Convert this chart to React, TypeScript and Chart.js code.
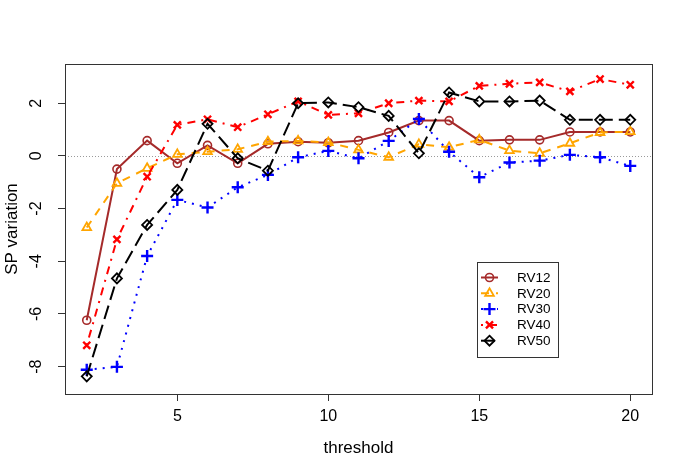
import React, { useEffect, useRef } from "react";
import { Chart, registerables } from "chart.js";

Chart.register(...registerables);

const thresholds = [2, 3, 4, 5, 6, 7, 8, 9, 10, 11, 12, 13, 14, 15, 16, 17, 18, 19, 20];
const rv12 = [-6.24, -0.5, 0.58, -0.28, 0.4, -0.28, 0.46, 0.54, 0.5, 0.58, 0.89, 1.34, 1.34, 0.58, 0.61, 0.61, 0.91, 0.91, 0.91];
const rv20 = [-2.72, -1.04, -0.47, 0.06, 0.16, 0.25, 0.54, 0.57, 0.51, 0.23, -0.05, 0.44, 0.33, 0.61, 0.2, 0.1, 0.48, 0.89, 0.92];
const rv30 = [-8.12, -8.01, -3.8, -1.67, -1.96, -1.19, -0.72, -0.05, 0.19, -0.09, 0.57, 1.4, 0.16, -0.81, -0.25, -0.18, 0.04, -0.05, -0.38];
const rv40 = [-7.19, -3.17, -0.79, 1.18, 1.39, 1.09, 1.58, 2.07, 1.56, 1.62, 2.0, 2.1, 2.07, 2.66, 2.74, 2.79, 2.45, 2.92, 2.7];
const rv50 = [-8.37, -4.65, -2.62, -1.29, 1.22, -0.09, -0.56, 2.0, 2.03, 1.85, 1.52, 0.1, 2.41, 2.07, 2.07, 2.1, 1.37, 1.37, 1.37];

const seriesNames = ["RV12", "RV20", "RV30", "RV40", "RV50"];
const xTicks = [5, 10, 15, 20];
const yTicks = [-8, -6, -4, -2, 0, 2];

const FONT = '"Liberation Sans", Arial, Helvetica, sans-serif';

type Style = { color: string; dash: number[]; point: string; radius: number; pw: number; fill: string };
const styles: Style[] = [
  { color: "#A52A2A", dash: [], point: "circle", radius: 4, pw: 1.6, fill: "rgba(255,255,255,0)" },
  { color: "#FFA500", dash: [8, 7], point: "triangle", radius: 5, pw: 1.8, fill: "rgba(255,255,255,0)" },
  { color: "#0000FF", dash: [2, 6], point: "cross", radius: 6, pw: 2.4, fill: "rgba(255,255,255,0)" },
  { color: "#FF0000", dash: [2, 6, 8, 6], point: "crossRot", radius: 5, pw: 2.4, fill: "rgba(255,255,255,0)" },
  { color: "#000000", dash: [14, 6], point: "rectRot", radius: 5, pw: 1.8, fill: "rgba(255,255,255,0)" },
];

function drawMarker(ctx: CanvasRenderingContext2D, s: Style, x: number, y: number) {
  ctx.save();
  ctx.setLineDash([]);
  ctx.strokeStyle = s.color;
  ctx.lineWidth = s.pw;
  ctx.beginPath();
  const r = s.radius;
  if (s.point === "circle") {
    ctx.arc(x, y, r, 0, Math.PI * 2);
  } else if (s.point === "triangle") {
    ctx.moveTo(x, y - r);
    ctx.lineTo(x + r * 0.866, y + r * 0.5);
    ctx.lineTo(x - r * 0.866, y + r * 0.5);
    ctx.closePath();
  } else if (s.point === "cross") {
    ctx.moveTo(x - r, y);
    ctx.lineTo(x + r, y);
    ctx.moveTo(x, y - r);
    ctx.lineTo(x, y + r);
  } else if (s.point === "crossRot") {
    const d = r * 0.707;
    ctx.moveTo(x - d, y - d);
    ctx.lineTo(x + d, y + d);
    ctx.moveTo(x + d, y - d);
    ctx.lineTo(x - d, y + d);
  } else {
    ctx.moveTo(x, y - r);
    ctx.lineTo(x + r, y);
    ctx.lineTo(x, y + r);
    ctx.lineTo(x - r, y);
    ctx.closePath();
  }
  ctx.stroke();
  ctx.restore();
}

const zeroLinePlugin = {
  id: "zeroLine",
  beforeDatasetsDraw(chart: any) {
    const { ctx, chartArea, scales } = chart;
    const y = Math.round(scales.y.getPixelForValue(0)) + 0.5;
    ctx.save();
    ctx.strokeStyle = "#9a9a9a";
    ctx.lineWidth = 1;
    ctx.setLineDash([1, 2]);
    ctx.beginPath();
    ctx.moveTo(chartArea.left, y);
    ctx.lineTo(chartArea.right, y);
    ctx.stroke();
    ctx.restore();
  },
};

const boxPlugin = {
  id: "box",
  afterDatasetsDraw(chart: any) {
    const { ctx, chartArea } = chart;
    ctx.save();
    ctx.strokeStyle = "#333";
    ctx.lineWidth = 1;
    ctx.setLineDash([]);
    ctx.strokeRect(chartArea.left + 0.5, chartArea.top + 0.5, chartArea.right - chartArea.left, chartArea.bottom - chartArea.top);
    ctx.restore();
  },
};

const legendPlugin = {
  id: "rLegend",
  afterDraw(chart: any) {
    const { ctx } = chart;
    const bx = 477.5, by = 262.5, bw = 81, bh = 95;
    ctx.save();
    ctx.fillStyle = "#fff";
    ctx.fillRect(bx, by, bw, bh);
    ctx.strokeStyle = "#333";
    ctx.lineWidth = 1;
    ctx.strokeRect(bx, by, bw, bh);
    chart.data.datasets.forEach((ds: any, i: number) => {
      const s = styles[i];
      const y = 277.5 + i * 15.8;
      ctx.save();
      ctx.strokeStyle = s.color;
      ctx.lineWidth = 2;
      ctx.setLineDash(s.dash);
      ctx.beginPath();
      ctx.moveTo(481, y);
      ctx.lineTo(498, y);
      ctx.stroke();
      ctx.restore();
      drawMarker(ctx, s, 489.5, y);
      ctx.fillStyle = "#000";
      ctx.font = `13.5px ${FONT}`;
      ctx.textBaseline = "middle";
      ctx.textAlign = "left";
      ctx.fillText(ds.label, 517, y + 0.5);
    });
    ctx.restore();
  },
};

export default function App() {
  const ref = useRef<HTMLCanvasElement | null>(null);

  useEffect(() => {
    if (!ref.current) return;
    const all = [rv12, rv20, rv30, rv40, rv50];
    const chart = new Chart(ref.current, {
      type: "line",
      data: {
        datasets: all.map((vals, i) => ({
          label: seriesNames[i],
          data: thresholds.map((t, j) => ({ x: t, y: vals[j] })),
          borderColor: styles[i].color,
          backgroundColor: styles[i].color,
          borderWidth: 2,
          borderDash: styles[i].dash,
          borderCapStyle: "butt" as const,
          tension: 0,
          fill: false,
          pointStyle: styles[i].point as any,
          pointRadius: styles[i].radius,
          pointBorderWidth: styles[i].pw,
          pointBorderColor: styles[i].color,
          pointBackgroundColor: styles[i].fill,
          order: 5 - i,
        })),
      },
      options: {
        animation: false,
        responsive: false,
        devicePixelRatio: 1,
        layout: { padding: { top: 64, right: 33, left: 0, bottom: 0 } },
        plugins: { legend: { display: false }, tooltip: { enabled: false } },
        scales: {
          x: {
            type: "linear",
            min: 1.28,
            max: 20.72,
            afterBuildTicks: (s: any) => {
              s.ticks = xTicks.map((v) => ({ value: v }));
            },
            afterFit: (s: any) => {
              s.height = 80;
            },
            grid: { display: true, drawOnChartArea: false, drawTicks: true, tickLength: 7, color: "#333" },
            border: { display: true, color: "#333" },
            ticks: { color: "#000", font: { family: FONT, size: 16 }, padding: 6, maxRotation: 0, autoSkip: false },
            title: { display: true, text: "threshold", color: "#000", font: { family: FONT, size: 17 }, padding: { top: 0, bottom: 15 } },
          },
          y: {
            type: "linear",
            min: -9.04,
            max: 3.49,
            afterBuildTicks: (s: any) => {
              s.ticks = yTicks.map((v) => ({ value: v }));
            },
            afterFit: (s: any) => {
              s.width = 65;
            },
            grid: { display: true, drawOnChartArea: false, drawTicks: true, tickLength: 7, color: "#333" },
            border: { display: true, color: "#333" },
            ticks: { color: "#000", font: { family: FONT, size: 16 }, padding: 14, minRotation: 90, maxRotation: 90, crossAlign: "center", autoSkip: false },
            title: { display: true, text: "SP variation", color: "#000", font: { family: FONT, size: 17 }, padding: { top: 2, bottom: 0 } },
          },
        },
      },
      plugins: [zeroLinePlugin, boxPlugin, legendPlugin],
    } as any);
    return () => chart.destroy();
  }, []);

  return (
    <div style={{ position: "fixed", left: 0, top: 0, width: 685, height: 474, background: "#fff" }}>
      <canvas ref={ref} width={685} height={474} />
    </div>
  );
}
